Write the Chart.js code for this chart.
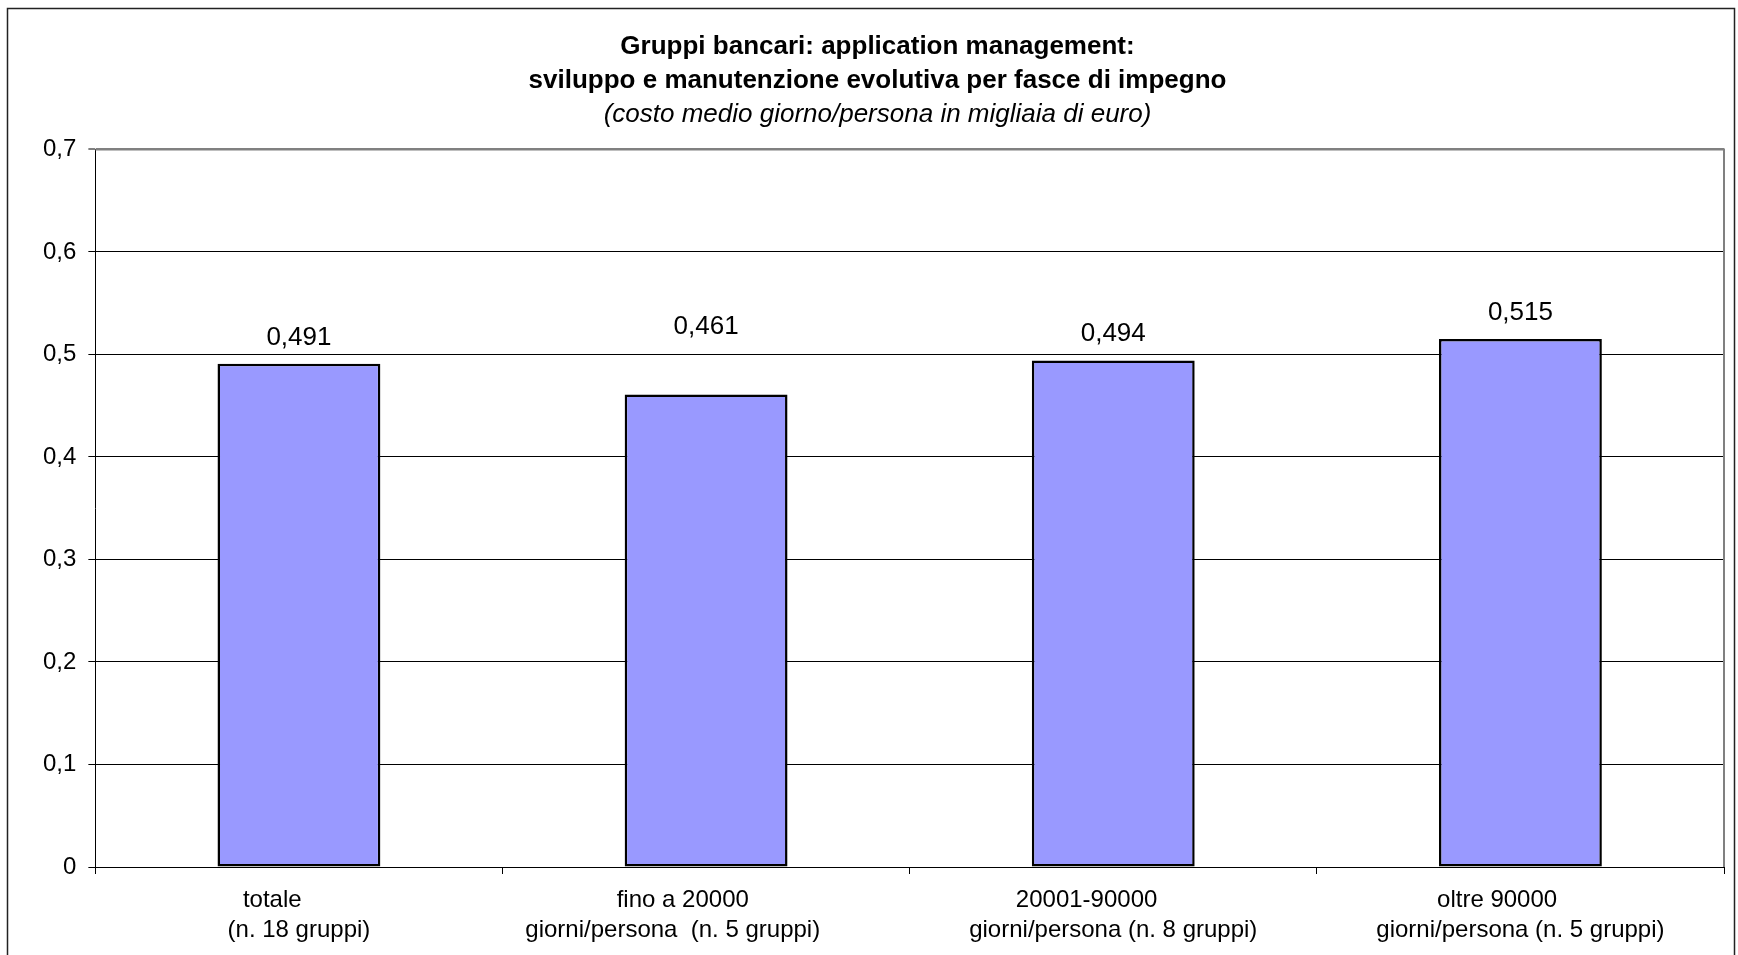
<!DOCTYPE html>
<html>
<head>
<meta charset="utf-8">
<title>Gruppi bancari: application management</title>
<script src="https://cdn.jsdelivr.net/npm/chart.js@4.4.1/dist/chart.umd.min.js"></script>
<style>
  html, body { margin: 0; padding: 0; background: #fff; }
  #wrap { width: 1738px; height: 955px; position: relative; }
</style>
</head>
<body>
<div id="wrap"><canvas id="chart"></canvas></div>
<script>
// Data
const categories = [
  ['totale        ', '(n. 18 gruppi)'],
  ['fino a 20000       ', 'giorni/persona  (n. 5 gruppi)          '],
  ['20001-90000        ', 'giorni/persona (n. 8 gruppi)'],
  ['oltre 90000       ', 'giorni/persona (n. 5 gruppi)'],
];
const costoMedio = [0.491, 0.461, 0.494, 0.515];
const yTicksMin = 0;
const yTicksMax = 0.7;
const yStep = 0.1;

const FONT = "'Liberation Sans', Arial, sans-serif";
const fmtIt = (v, d) => v.toFixed(d).replace('.', ',');

// Excel-ish frame: outer chart border plus grey plot-area border on top/right
const framePlugin = {
  id: 'frame',
  afterDraw(chart) {
    const { ctx, chartArea: a } = chart;
    ctx.save();
    ctx.strokeStyle = '#808080';
    ctx.lineWidth = 2;
    ctx.beginPath();
    ctx.moveTo(a.left, a.top);
    ctx.lineTo(a.right, a.top);
    ctx.lineTo(a.right, a.bottom);
    ctx.stroke();
    ctx.strokeStyle = '#222';
    ctx.lineWidth = 1.5;
    ctx.strokeRect(7.5, 8.5, 1727, 970);
    ctx.restore();
  },
};

// Value labels above bars (offsets in px, the second one sits higher in the original)
const valueLabels = {
  id: 'valueLabels',
  afterDatasetsDraw(chart, args, opts) {
    const { ctx } = chart;
    const meta = chart.getDatasetMeta(0);
    ctx.save();
    ctx.font = `${opts.size}px ${FONT}`;
    ctx.fillStyle = '#000';
    ctx.textAlign = 'center';
    ctx.textBaseline = 'middle';
    meta.data.forEach((bar, i) => {
      const v = chart.data.datasets[0].data[i];
      ctx.fillText(fmtIt(v, 3), bar.x, bar.y - opts.offsets[i]);
    });
    ctx.restore();
  },
};

new Chart(document.getElementById('chart'), {
  type: 'bar',
  data: {
    labels: categories,
    datasets: [{
      data: costoMedio,
      backgroundColor: '#9999FF',
      borderColor: '#000',
      borderWidth: 2.5,
      borderSkipped: false,
      categoryPercentage: 1,
      barPercentage: 0.4,
    }],
  },
  plugins: [framePlugin, valueLabels],
  options: {
    responsive: true,
    maintainAspectRatio: false,
    animation: false,
    layout: { padding: { left: 31, right: 14, top: 0, bottom: -1 } },
    plugins: {
      legend: { display: false },
      tooltip: { enabled: false },
      title: {
        display: true,
        text: ['Gruppi bancari: application management:',
               'sviluppo e manutenzione evolutiva per fasce di impegno'],
        color: '#000',
        font: { family: FONT, size: 26, weight: 'bold', lineHeight: 1.3 },
        padding: { top: 30, bottom: 0 },
      },
      subtitle: {
        display: true,
        text: '(costo medio giorno/persona in migliaia di euro)',
        color: '#000',
        font: { family: FONT, size: 26, style: 'italic', weight: 'normal', lineHeight: 1.3 },
        padding: { top: 0, bottom: 18 },
      },
      valueLabels: { size: 26, offsets: [26, 68, 27, 26] },
    },
    scales: {
      x: {
        grid: {
          offset: true,
          drawOnChartArea: false,
          drawTicks: true,
          tickLength: 7,
          color: '#000',
        },
        border: { color: '#000', width: 1 },
        ticks: {
          color: '#000',
          padding: 11,
          maxRotation: 0,
          autoSkip: false,
          font: { family: FONT, size: 24, lineHeight: 1.25 },
        },
      },
      y: {
        min: yTicksMin,
        max: yTicksMax,
        grid: {
          color: (c) => Math.abs(c.tick.value - yTicksMax) < 1e-9 ? '#808080' : '#000',
          lineWidth: (c) => Math.abs(c.tick.value - yTicksMax) < 1e-9 ? 2 : 1,
          tickColor: '#000',
          tickWidth: 1,
          tickLength: 7,
        },
        border: { color: '#000', width: 1 },
        ticks: {
          stepSize: yStep,
          color: '#000',
          padding: 12,
          font: { family: FONT, size: 24 },
          callback: (v) => (v === 0 ? '0' : fmtIt(v, 1)),
        },
      },
    },
  },
});
</script>
</body>
</html>
